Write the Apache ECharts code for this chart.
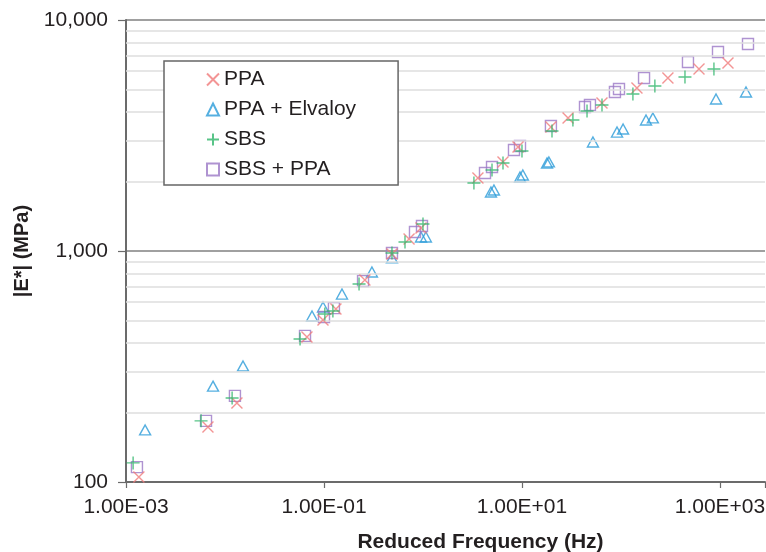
<!DOCTYPE html>
<html>
<head>
<meta charset="utf-8">
<script src="https://cdn.jsdelivr.net/npm/echarts@6/dist/echarts.min.js"></script>
<style>
html,body{margin:0;padding:0;background:#fff;}
#chart{width:766px;height:552px;}
</style>
</head>
<body>
<div id="chart"></div>
<script>
// ---- Data (reduced frequency Hz, |E*| MPa) ----
const ppaFreq = [0.00135,0.00673,0.0132,0.0673,0.0977,0.132,0.259,0.486,0.723,0.955,3.59,6.43,9.12,19.6,29.2,64.3,145,298,614,1205];
const ppaMod  = [105,173,220,424,503,561,749,970,1127,1258,2070,2430,2820,3440,3767,4370,5080,5610,6140,6510];

const elvFreq = [0.00156,0.00757,0.0152,0.0757,0.0977,0.152,0.305,0.486,0.955,1.07,4.86,5.21,9.55,10.2,17.9,18.7,52.1,91.2,105,179,210,912,1832];
const elvMod  = [168,260,318,523,572,651,811,933,1150,1150,1800,1837,2091,2133,2404,2430,2963,3273,3375,3690,3767,4550,4879];

const sbsFreq = [0.00118,0.00573,0.0118,0.0573,0.102,0.123,0.226,0.486,0.658,1.0,3.27,4.98,6.43,10,20.1,32.7,45.4,64.3,132,220,443,869];
const sbsMod  = [121,184,231,416,534,550,720,980,1094,1309,1969,2243,2404,2710,3306,3690,4036,4285,4783,5180,5665,6137];

const sbsPpaFreq = [0.00129,0.00643,0.0126,0.0643,0.1,0.126,0.248,0.486,0.830,0.977,4.23,4.98,8.30,9.55,19.6,43.3,48.6,86.9,95.5,171,475,955,1919];
const sbsPpaMod  = [116,184,236,429,518,566,741,980,1208,1283,2176,2310,2737,2849,3475,4200,4285,4879,5027,5610,6580,7270,7870];

const seriesNames = ['PPA','PPA + Elvaloy','SBS','SBS + PPA'];
const minorGridValues = [200,300,400,500,600,700,800,900,2000,3000,4000,5000,6000,7000,8000,9000];
const yTickLabels = {100:'100',1000:'1,000',10000:'10,000'};

function zip(a,b){return a.map((v,i)=>[v,b[i]]);}

const crossPath = 'path://M0,0L10,10M10,0L0,10';
const plusPath  = 'path://M5,0L5,10M0,5L10,5';

function fmtX(v){
  const e = Math.log10(v), r = Math.round(e);
  if (Math.abs(e-r) > 1e-6) return '';
  const a = Math.abs(r);
  return '1.00E' + (r<0?'-':'+') + (a<10?'0':'') + a;
}

const chart = echarts.init(document.getElementById('chart'), null, {renderer:'canvas'});
const FONT = 'Liberation Sans, Arial, Helvetica, sans-serif';

function mk(name, data, symbol, size, color, z){
  return {
    name, type:'scatter', data, symbol, symbolSize: size, z: z,
    itemStyle:{color:'rgba(0,0,0,0)', borderColor:color, borderWidth:1.4},
    emphasis:{disabled:true}
  };
}

chart.setOption({
  animation:false,
  backgroundColor:'#fff',
  textStyle:{fontFamily:FONT},
  grid:{left:126, right:1, top:20, bottom:70, containLabel:false, outerBoundsMode:'none'},
  legend:{
    orient:'vertical', left:164, top:61, z:20,
    padding:[8,42,5,42], itemGap:9, itemWidth:12, itemHeight:12,
    backgroundColor:'#fff', borderColor:'#666', borderWidth:1.5,
    textStyle:{fontSize:21, color:'#231f20', fontFamily:FONT, lineHeight:20},
    data: seriesNames
  },
  xAxis:{
    type:'log', logBase:10, min:0.001, max:2850, interval:2,
    name:'Reduced Frequency (Hz)', nameLocation:'middle', nameGap:50,
    nameTextStyle:{fontSize:21, fontWeight:'bold', color:'#231f20', fontFamily:FONT, padding:[0,0,0,70]},
    axisLine:{show:true, lineStyle:{color:'#6b6b6b', width:2}},
    axisTick:{show:true, length:6, lineStyle:{color:'#6b6b6b', width:1.2}},
    axisLabel:{fontSize:21, color:'#231f20', margin:15, formatter:fmtX, fontFamily:FONT, showMaxLabel:true},
    splitLine:{show:false}, minorTick:{show:false}, minorSplitLine:{show:false}
  },
  yAxis:{
    type:'log', logBase:10, min:100, max:10000,
    name:'|E*| (MPa)', nameLocation:'middle', nameGap:88, nameRotate:90,
    nameTextStyle:{fontSize:20, fontWeight:'bold', color:'#231f20', fontFamily:FONT},
    axisLine:{show:true, lineStyle:{color:'#6b6b6b', width:2}},
    axisTick:{show:true, length:8, lineStyle:{color:'#6b6b6b', width:1.2}},
    axisLabel:{fontSize:21, color:'#231f20', margin:18, fontFamily:FONT,
      formatter:(v)=>yTickLabels[Math.round(v)] || ''},
    splitLine:{show:true, lineStyle:{color:'#808080', width:1.5}},
    minorTick:{show:false}, minorSplitLine:{show:false}
  },
  series:[
    {
      name:'grid', type:'scatter', data:[], z:1, silent:true,
      markLine:{
        silent:true, symbol:'none', animation:false,
        label:{show:false},
        lineStyle:{color:'#dedede', width:1.5, type:'solid'},
        emphasis:{disabled:true},
        data: minorGridValues.map(v=>({yAxis:v}))
      }
    },
    mk('PPA + Elvaloy', zip(elvFreq, elvMod), 'triangle', [11,10], '#2b9bd8', 3),
    mk('SBS + PPA', zip(sbsPpaFreq, sbsPpaMod), 'rect', 11, '#9b78c6', 4),
    mk('PPA', zip(ppaFreq, ppaMod), crossPath, 11, '#f07a7a', 5),
    mk('SBS', zip(sbsFreq, sbsMod), plusPath, 13, '#2fb56a', 6)
  ]
});
</script>
</body>
</html>
